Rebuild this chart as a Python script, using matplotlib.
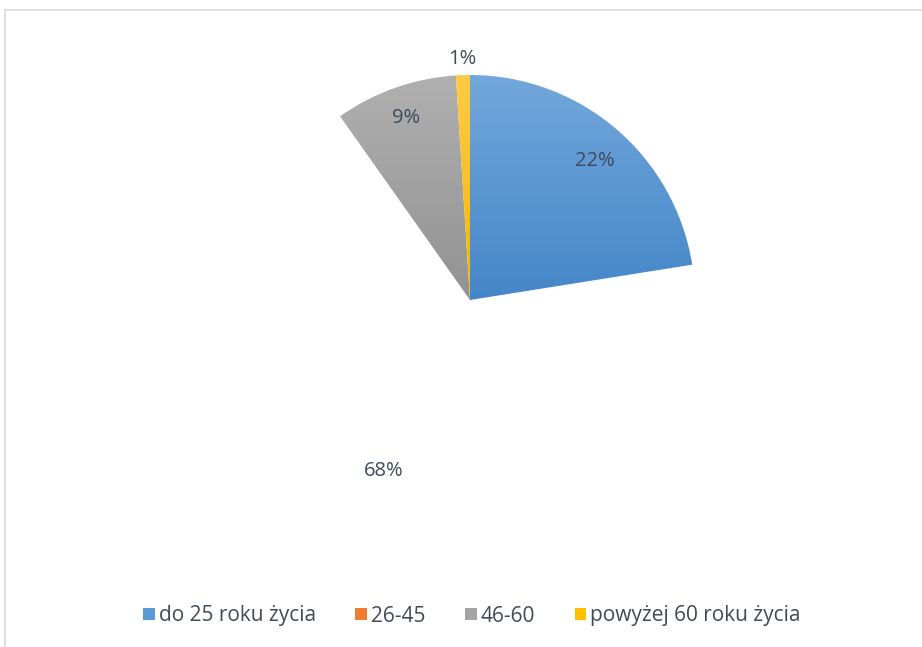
import numpy as np
import matplotlib
matplotlib.use("Agg")
import matplotlib.pyplot as plt
from matplotlib.patches import Patch
from matplotlib.colors import LinearSegmentedColormap

categories = ["do 25 roku życia", "26-45", "46-60", "powyżej 60 roku życia"]
values = [22.49, 67.71, 8.8, 1.0]
colors_top = ["#72A7DB", "#F08A48", "#B0B0B0", "#FFCB45"]
colors_bottom = ["#4586C8", "#E2691E", "#929292", "#F2B800"]
legend_colors = ["#5B9BD5", "#ED7D31", "#A5A5A5", "#FFC000"]
visible = [True, False, True, True]
label_dist = [0.83, 0.85, 0.86, 1.07]
label_angle_shift = [-1.5, -4.0, 0.0, 0.0]
text_color = "#404A5A"

plt.rcParams['font.family'] = ['Open Sans', 'DejaVu Sans']

W, H = 922, 647
fig = plt.figure(figsize=(W / 100, H / 100), dpi=100)
cx, cy, R = 470, 300, 225
ax = fig.add_axes([(cx - R) / W, (H - cy - R) / H, 2 * R / W, 2 * R / H])
ax.set_xlim(-1, 1)
ax.set_ylim(-1, 1)
ax.axis("off")

wedges, _ = ax.pie(values, startangle=90, counterclock=False, radius=1,
                   colors=legend_colors, wedgeprops=dict(linewidth=0))

total = sum(values)
for w, vis, ct, cb in zip(wedges, visible, colors_top, colors_bottom):
    w.set_facecolor("none")
    if not vis:
        continue
    bb = w.get_path().get_extents(w.get_transform() + ax.transData.inverted())
    cmap = LinearSegmentedColormap.from_list("g", [cb, ct])
    grad = np.linspace(0, 1, 256).reshape(-1, 1)
    im = ax.imshow(grad, cmap=cmap, origin="lower", aspect="auto",
                   extent=[bb.x0, bb.x1, bb.y0, bb.y1], zorder=1,
                   interpolation="bilinear")
    im.set_clip_path(w)
ax.set_xlim(-1, 1)
ax.set_ylim(-1, 1)

for w, v, d, s in zip(wedges, values, label_dist, label_angle_shift):
    ang = np.deg2rad((w.theta1 + w.theta2) / 2 + s)
    ax.text(d * np.cos(ang), d * np.sin(ang), f"{round(v / total * 100):.0f}%",
            ha="center", va="center", fontsize=14.5, color=text_color, zorder=5)

handles = [Patch(facecolor=c, edgecolor="none") for c in legend_colors]
fig.legend(handles, categories, loc="center", bbox_to_anchor=(472 / W, 1 - 616 / H),
           ncol=4, frameon=False, fontsize=15, handlelength=0.55, handleheight=0.55,
           handletextpad=0.2, columnspacing=1.9, labelcolor=text_color)

# chart border
fig.add_artist(plt.Line2D([4.5 / W, 1], [1 - 9.5 / H, 1 - 9.5 / H], color="#D9D9D9", lw=1.2))
fig.add_artist(plt.Line2D([4.5 / W, 4.5 / W], [0, 1 - 9.5 / H], color="#D9D9D9", lw=1.2))

fig.savefig("out.png", dpi=100, facecolor="white")
